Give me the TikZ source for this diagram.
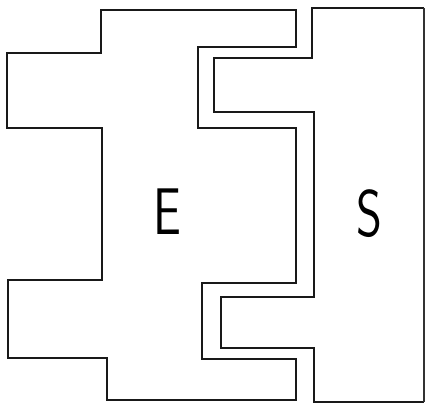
\documentclass[tikz,border=0pt]{standalone}
\begin{document}
\begin{tikzpicture}[x=1pt,y=-1pt,
  wall/.style={line width=2.6pt,line join=miter,draw=black!90},
  thinwall/.style={line width=1.2pt,draw=black!80},
  letter/.style={font=\sffamily\fontsize{66}{66}\selectfont,inner sep=0pt,xscale=0.75,transform shape}]
\fill[white!95!blue!3] (0,0) rectangle (427,406);
\useasboundingbox (0,0) rectangle (427,406);
% E piece
\draw[wall] (101,10) -- (296,10) -- (296,47) -- (198,47) -- (198,128) -- (296,128)
  -- (296,283) -- (202,283) -- (202,359) -- (296,359) -- (296,400) -- (107,400)
  -- (107,358) -- (8,358) -- (8,280) -- (102,280) -- (102,128) -- (7,128)
  -- (7,53) -- (101,53) -- cycle;
% S piece
\draw[wall] (424,8) -- (312,8) -- (312,58) -- (214,58) -- (214,112) -- (314,112)
  -- (314,297) -- (221,297) -- (221,348) -- (314,348) -- (314,402) -- (424,402);
\draw[thinwall] (424,8) -- (424,402);
\node[letter] (E) at (167,212) {E};
\node[letter] (S) at (369,214) {S};
\end{tikzpicture}
\end{document}
